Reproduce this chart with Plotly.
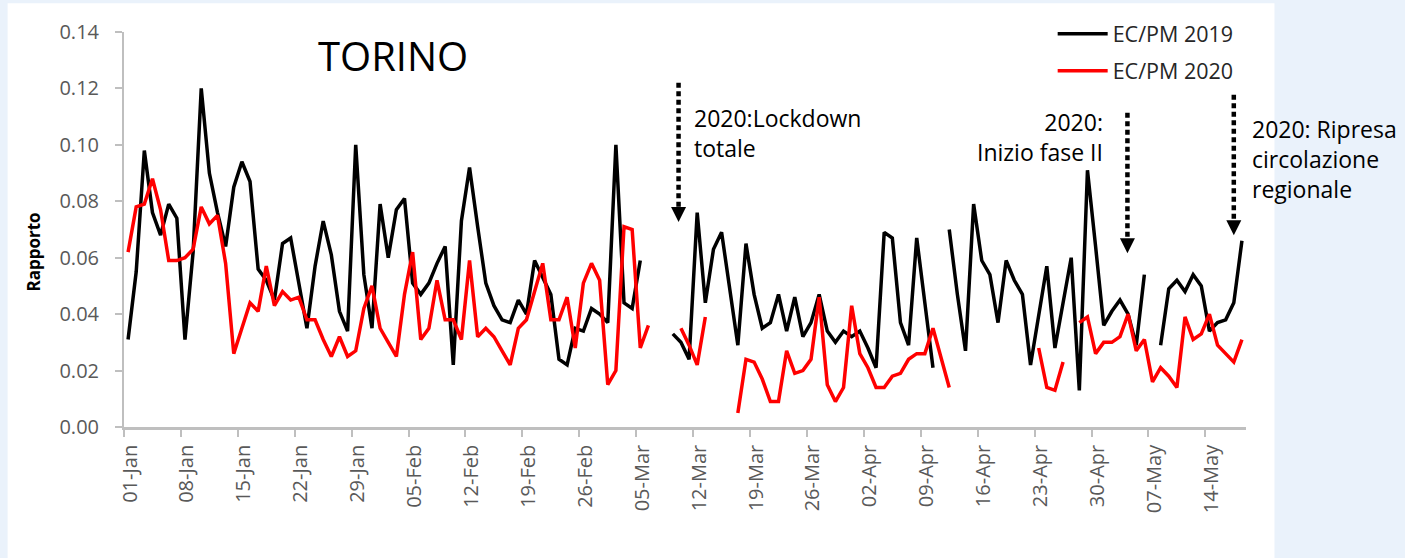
import pandas as pd
import plotly.graph_objects as go

# Daily EC/PM ratio, Torino, 1 Jan - 18 May (None = missing day)
start_date = "2019-01-01"
n_days = 138

ec_pm_2019 = [
    0.031, 0.055, 0.098, 0.076, 0.068, 0.079, 0.074, 0.031, 0.062, 0.120,
    0.090, 0.076, 0.064, 0.085, 0.094, 0.087, 0.056, 0.052, 0.045, 0.065,
    0.067, 0.051, 0.035, 0.057, 0.073, 0.061, 0.041, 0.034, 0.100, 0.054,
    0.035, 0.079, 0.060, 0.077, 0.081, 0.051, 0.047, 0.051, 0.058, 0.064,
    0.022, 0.073, 0.092, 0.071, 0.051, 0.043, 0.038, 0.037, 0.045, 0.040,
    0.059, 0.053, 0.047, 0.024, 0.022, 0.035, 0.034, 0.042, 0.040, 0.037,
    0.100, 0.044, 0.042, 0.059, None, None, None, 0.033, 0.030, 0.024,
    0.076, 0.044, 0.063, 0.069, 0.048, 0.029, 0.065, 0.047, 0.035, 0.037,
    0.047, 0.034, 0.046, 0.032, 0.037, 0.047, 0.034, 0.030, 0.034, 0.032,
    0.034, 0.028, 0.021, 0.069, 0.067, 0.037, 0.029, 0.067, 0.044, 0.021,
    None, 0.070, 0.047, 0.027, 0.079, 0.059, 0.054, 0.037, 0.059, 0.052,
    0.047, 0.022, 0.039, 0.057, 0.028, 0.044, 0.060, 0.013, 0.091, 0.064,
    0.036, 0.041, 0.045, 0.040, 0.029, 0.054, None, 0.029, 0.049, 0.052,
    0.048, 0.054, 0.050, 0.034, 0.037, 0.038, 0.044, 0.066,
]

ec_pm_2020 = [
    0.062, 0.078, 0.079, 0.088, 0.077, 0.059, 0.059, 0.060, 0.063, 0.078,
    0.072, 0.075, 0.058, 0.026, 0.035, 0.044, 0.041, 0.057, 0.043, 0.048,
    0.045, 0.046, 0.038, 0.038, 0.031, 0.025, 0.032, 0.025, 0.027, 0.042,
    0.050, 0.035, 0.030, 0.025, 0.047, 0.062, 0.031, 0.035, 0.052, 0.038,
    0.038, 0.031, 0.059, 0.032, 0.035, 0.032, 0.027, 0.022, 0.035, 0.038,
    0.048, 0.058, 0.038, 0.038, 0.046, 0.028, 0.051, 0.058, 0.052, 0.015,
    0.020, 0.071, 0.070, 0.028, 0.036, None, None, None, 0.035, 0.029,
    0.022, 0.039, None, None, None, 0.005, 0.024, 0.023, 0.017, 0.009,
    0.009, 0.027, 0.019, 0.020, 0.024, 0.046, 0.015, 0.009, 0.014, 0.043,
    0.026, 0.021, 0.014, 0.014, 0.018, 0.019, 0.024, 0.026, 0.026, 0.035,
    0.024, 0.014, None, None, None, None, None, None, None, None,
    None, None, 0.028, 0.014, 0.013, 0.023, None, 0.037, 0.039, 0.026,
    0.030, 0.030, 0.032, 0.040, 0.027, 0.031, 0.016, 0.021, 0.018, 0.014,
    0.039, 0.031, 0.033, 0.040, 0.029, 0.026, 0.023, 0.031,
]

series_names = ["EC/PM 2019", "EC/PM 2020"]
series_colors = ["#000000", "#FF0000"]

# Event markers: (arrow date, top of dotted shaft, top of arrow head)
events = [
    ("2019-03-10 05:00", 0.122, 0.078),
    ("2019-05-04 10:00", 0.1114, 0.0669),
    ("2019-05-17 12:00", 0.1178, 0.0733),
]

FONT = "Open Sans"
GREY = "#595959"
AXIS = "#BFBFBF"

days = pd.date_range(start_date, periods=n_days, freq="D")
x_mid = days + pd.Timedelta(hours=12)
week_ticks = pd.date_range(start_date, "2019-05-14", freq="7D")

fig = go.Figure()
for name, vals, col in zip(series_names, [ec_pm_2019, ec_pm_2020], series_colors):
    fig.add_trace(go.Scatter(
        x=x_mid, y=vals, name=name, mode="lines",
        line=dict(color=col, width=3.5), connectgaps=False,
        legendgroup=name,
    ))

# plot-area geometry in pixels (used for paper-coordinate placement of text)
L, R, T, B = 123.5, 1246.5, 31.7, 427.3
W, H = R - L, B - T


def px(xp):
    return (xp - L) / W


def py(yp):
    return (B - yp) / H


shapes = [
    # white card behind the chart
    dict(type="rect", xref="paper", yref="paper", x0=px(7), x1=px(1275),
         y0=py(570), y1=py(3), fillcolor="white", line=dict(width=0), layer="below"),
]
for xd, y_top, y_head in events:
    shapes.append(dict(type="line", xref="x", yref="y", x0=xd, x1=xd, y0=y_top, y1=y_head,
                       line=dict(color="black", width=4.5, dash="5px,3.5px")))
    shapes.append(dict(type="path", xref="x", yref="y", xsizemode="pixel", ysizemode="pixel",
                       xanchor=xd, yanchor=y_head, path="M-7.5,0 L7.5,0 L0,-15 Z",
                       fillcolor="black", line=dict(width=0)))

annotations = [
    dict(text="TORINO", xref="paper", yref="paper", x=px(316), y=py(55), xanchor="left",
         yanchor="middle", showarrow=False, font=dict(family=FONT, size=40, color="black")),
    dict(text="2020:Lockdown<br>totale", xref="paper", yref="paper", x=px(692), y=py(133),
         xanchor="left", yanchor="middle", align="left", showarrow=False,
         font=dict(family=FONT, size=23, color="black")),
    dict(text="2020:<br>Inizio fase II", xref="paper", yref="paper", x=px(1105), y=py(137),
         xanchor="right", yanchor="middle", align="right", showarrow=False,
         font=dict(family=FONT, size=23, color="black")),
    dict(text="2020: Ripresa<br>circolazione<br>regionale", xref="paper", yref="paper",
         x=px(1251), y=py(159), xanchor="left", yanchor="middle", align="left",
         showarrow=False, font=dict(family=FONT, size=23, color="black")),
    dict(text="<b>Rapporto</b>", xref="paper", yref="paper", x=px(33), y=py(252),
         xanchor="center", yanchor="middle", textangle=-90, showarrow=False,
         font=dict(family=FONT, size=17, color="black")),
]

fig.update_layout(
    width=1405, height=558, autosize=False,
    margin=dict(l=L, r=1405 - R, t=T, b=558 - B, pad=0),
    paper_bgcolor="#EAF2FB", plot_bgcolor="rgba(0,0,0,0)",
    font=dict(family=FONT, color=GREY),
    shapes=shapes, annotations=annotations,
    showlegend=True,
    legend=dict(x=px(1053), y=py(13), xanchor="left", yanchor="top",
                bgcolor="rgba(0,0,0,0)", font=dict(family=FONT, size=21.5, color="#262626"),
                itemwidth=50, tracegroupgap=6, traceorder="grouped"),
    xaxis=dict(
        type="date", range=[days[0], days[-1] + pd.Timedelta(days=1)],
        tickvals=week_ticks, tickformat="%d-%b", tickangle=-90,
        ticks="outside", ticklen=7, tickwidth=1.5, tickcolor=AXIS,
        showline=True, linecolor=AXIS, linewidth=2.5, showgrid=False, zeroline=False,
        tickfont=dict(family=FONT, size=20, color=GREY), ticklabelshift=6,
    ),
    yaxis=dict(
        range=[0, 0.14], tick0=0, dtick=0.02, tickformat=".2f",
        ticks="outside", ticklen=7, tickwidth=1.5, tickcolor=AXIS,
        showline=True, linecolor=AXIS, linewidth=2, showgrid=False, zeroline=False,
        tickfont=dict(family=FONT, size=20, color=GREY), ticklabelstandoff=12,
    ),
)

fig.write_html("out.html")
